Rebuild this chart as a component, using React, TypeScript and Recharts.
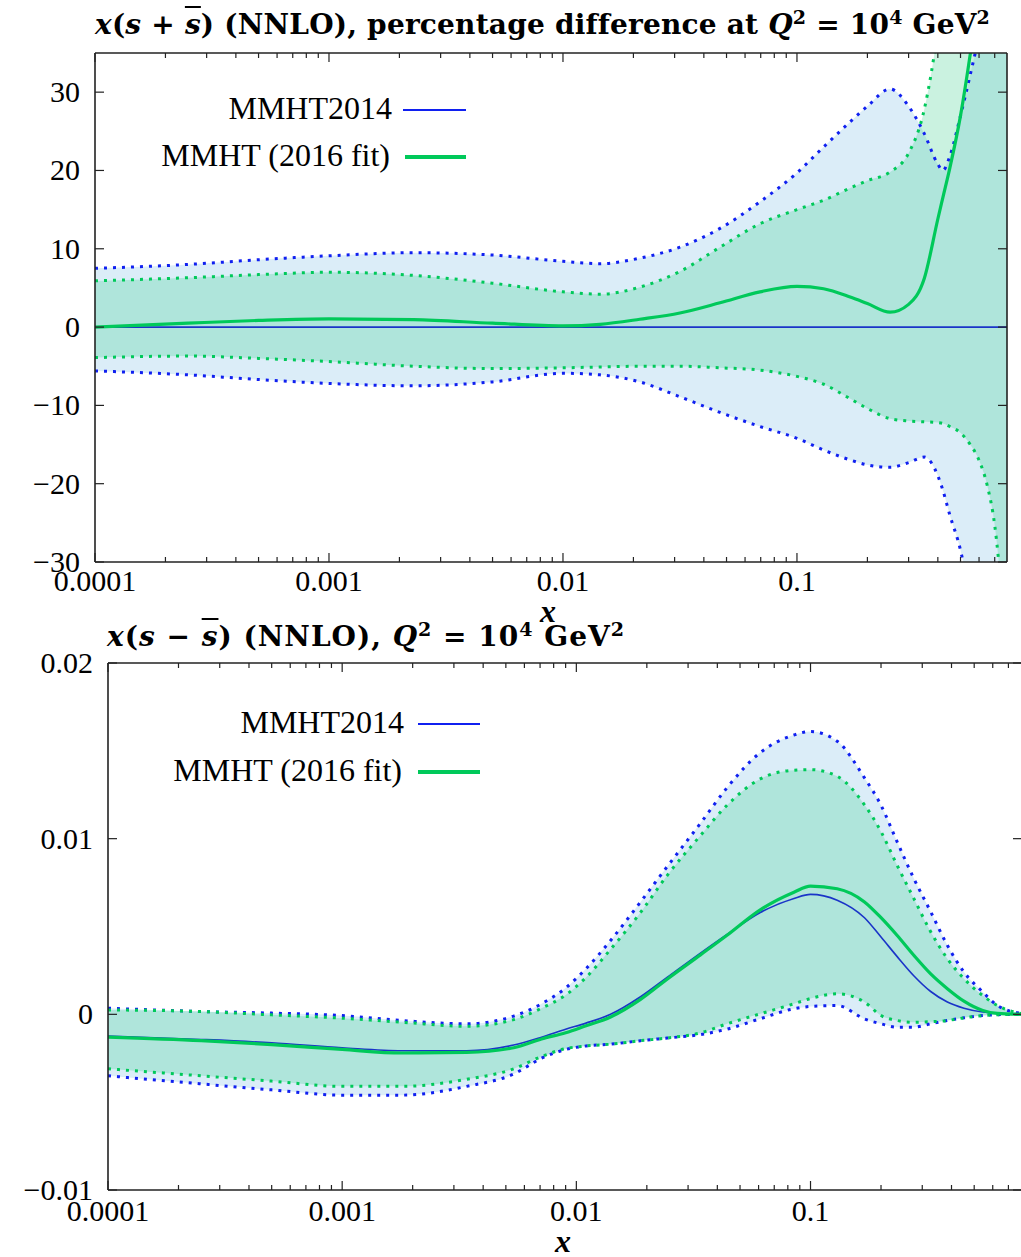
import React from 'react';
import { ComposedChart, Area, Line, XAxis, YAxis } from 'recharts';

// ---- top panel: x(s+sbar), percentage difference at Q^2 = 10^4 GeV^2
const X_TOP = [0.0001, 0.00025, 0.0005, 0.001, 0.0023, 0.005, 0.01, 0.0144, 0.0213, 0.0316, 0.0469, 0.0695, 0.1, 0.13, 0.17, 0.2, 0.25, 0.3, 0.35, 0.4, 0.42, 0.45, 0.5, 0.55, 0.6, 0.65, 0.7, 0.75, 0.79];
const TOP_BLUE_UP = [7.5, 8.0, 8.6, 9.1, 9.5, 9.2, 8.4, 8.1, 8.8, 10.2, 12.6, 16.0, 19.7, 23.0, 26.3, 28.2, 30.4, 28.2, 24.7, 20.8, 20.0, 21.8, 27.0, 32.2, 37.5, 45, 55, 65, 75];
const TOP_BLUE_LO = [-5.6, -6.1, -6.7, -7.2, -7.5, -7.0, -5.9, -6.1, -7.0, -8.9, -10.9, -12.7, -14.2, -15.7, -17.0, -17.6, -17.9, -17.3, -16.6, -19.0, -20.8, -24.0, -28.5, -35, -45, -55, -65, -75, -85];
const TOP_BLUE_MID = [0, 0, 0, 0, 0, 0, 0, 0, 0, 0, 0, 0, 0, 0, 0, 0, 0, 0, 0, 0, 0, 0, 0, 0, 0, 0, 0, 0, 0];
const TOP_GREEN_UP = [5.9, 6.3, 6.7, 7.0, 6.6, 5.6, 4.5, 4.2, 5.1, 7.1, 10.2, 13.2, 15.0, 16.2, 17.8, 18.7, 19.8, 22.2, 27.8, 38, 43, 50, 60, 70, 80, 90, 100, 110, 120];
const TOP_GREEN_LO = [-3.9, -3.7, -4.0, -4.4, -5.0, -5.3, -5.2, -5.1, -5.0, -5.0, -5.2, -5.5, -6.3, -7.3, -9.2, -10.4, -11.7, -12.0, -12.1, -12.2, -12.3, -12.7, -13.5, -15.0, -17.0, -20.2, -25.3, -34, -42];
const TOP_GREEN_MID = [0, 0.5, 0.85, 1.05, 0.95, 0.5, 0.15, 0.35, 1.0, 1.8, 3.1, 4.5, 5.2, 4.9, 3.8, 3.0, 1.9, 2.9, 6.2, 13.8, 16.5, 20.3, 27.0, 34.8, 43, 51, 59, 67, 73];

// ---- bottom panel: x(s-sbar)
const X_BOT = [0.0001, 0.00025, 0.0005, 0.001, 0.0018, 0.0034, 0.0054, 0.0071, 0.009, 0.011, 0.014, 0.0188, 0.0244, 0.034, 0.044, 0.061, 0.085, 0.1, 0.13, 0.17, 0.2, 0.234, 0.276, 0.326, 0.384, 0.452, 0.544, 0.628, 0.8];
const BOT_BLUE_UP = [0.00035, 0.00016, 0.00007, -0.00007, -0.00035, -0.00054, -0.0001, 0.0006, 0.0015, 0.0026, 0.0042, 0.0064, 0.0084, 0.0109, 0.0129, 0.0149, 0.0159, 0.0161, 0.01555, 0.01346, 0.0119, 0.00984, 0.00774, 0.00584, 0.00393, 0.00241, 0.00127, 0.0005, 0.00005];
const BOT_BLUE_LO = [-0.0035, -0.00396, -0.0043, -0.0046, -0.0046, -0.0041, -0.0034, -0.0025, -0.002, -0.0018, -0.0017, -0.0015, -0.00135, -0.00115, -0.00084, -0.00025, 0.00032, 0.00045, 0.0005, -0.00026, -0.00054, -0.00073, -0.00073, -0.00054, -0.00035, -0.0002, -0.00007, -0.00002, 0];
const BOT_BLUE_MID = [-0.00124, -0.00143, -0.00162, -0.0019, -0.00207, -0.00207, -0.00175, -0.0013, -0.00085, -0.0005, 0, 0.001, 0.0021, 0.0035, 0.00455, 0.0058, 0.0066, 0.00683, 0.0065, 0.0055, 0.0044, 0.0033, 0.0022, 0.0013, 0.0007, 0.00035, 0.00013, 0.00005, 0];
const BOT_GREEN_UP = [0.00025, 0.00016, -0.00003, -0.00022, -0.00045, -0.00068, -0.0003, 0.00035, 0.0011, 0.0021, 0.0037, 0.0058, 0.0079, 0.0102, 0.0119, 0.0134, 0.0139, 0.01393, 0.01355, 0.01193, 0.0104, 0.0085, 0.0066, 0.0047, 0.00317, 0.00203, 0.00107, 0.0005, 0.00003];
const BOT_GREEN_LO = [-0.0031, -0.0035, -0.0038, -0.0041, -0.0041, -0.0037, -0.0031, -0.0024, -0.00195, -0.0018, -0.0017, -0.0015, -0.00135, -0.00105, -0.00054, 0.00003, 0.0006, 0.0009, 0.00117, 0.0007, -0.00007, -0.00035, -0.00045, -0.00042, -0.00035, -0.0002, -0.00007, -0.00002, 0];
const BOT_GREEN_MID = [-0.0013, -0.0015, -0.00172, -0.002, -0.0022, -0.00217, -0.0019, -0.0014, -0.00105, -0.00065, -0.00015, 0.00085, 0.002, 0.0034, 0.0045, 0.00595, 0.00695, 0.0073, 0.00715, 0.0064, 0.0055, 0.0045, 0.00336, 0.0023, 0.00146, 0.00075, 0.00022, 0.00005, 0];

// ---- ticks
const X_MAJOR = [0.0001, 0.001, 0.01, 0.1];
const X_LABELS = ['0.0001', '0.001', '0.01', '0.1'];
const Y_TOP_TICKS = [-30, -20, -10, 0, 10, 20, 30];
const Y_TOP_LABELS = ['−30', '−20', '−10', '0', '10', '20', '30'];
const Y_BOT_TICKS = [-0.01, 0, 0.01, 0.02];
const Y_BOT_LABELS = ['−0.01', '0', '0.01', '0.02'];

const FONT = '"Liberation Serif", "Times New Roman", serif';
const TITLE_FONT = '"DejaVu Serif", serif';
const AX = '#222';
const BLUE = '#1020f0';
const BLUE_MID = '#1a34c8';
const GREEN = '#00c95a';
const BLUE_FILL = '#dbedf8';
const GREEN_FILL = '#3ccf8e';

// log ticks 1..9 per decade (minor ones get no label)
const logTicks = (max: number) => {
  const t: number[] = [];
  for (let e = -4; e <= -1; e++) {
    for (let m = 1; m <= 9; m++) {
      const v = Number((m * Math.pow(10, e)).toPrecision(3));
      if (v <= max) t.push(v);
    }
  }
  return t;
};

const majorIndex = (v: number) => X_MAJOR.findIndex((m) => Math.abs(m - v) / m < 1e-6);

const xTick = (side: 'top' | 'bottom', labelDy: number) => (p: any) => {
  const k = majorIndex(p.payload.value);
  const len = k >= 0 ? 9 : 5;
  const d = side === 'bottom' ? -1 : 1;
  return (
    <g>
      <line x1={p.x} x2={p.x} y1={p.y} y2={p.y + d * len} stroke={AX} strokeWidth={1.2} />
      {side === 'bottom' && k >= 0 && (
        <text x={p.x} y={p.y + labelDy} textAnchor="middle" fontFamily={FONT} fontSize={30} fill="#000">
          {X_LABELS[k]}
        </text>
      )}
    </g>
  );
};

const yTick = (side: 'left' | 'right', ticks: number[], labels: string[], gap: number) => (p: any) => {
  const i = ticks.findIndex((t) => Math.abs(t - p.payload.value) < 1e-9);
  const d = side === 'left' ? 1 : -1;
  return (
    <g>
      <line x1={p.x} x2={p.x + d * 9} y1={p.y} y2={p.y} stroke={AX} strokeWidth={1.2} />
      {side === 'left' && i >= 0 && (
        <text x={p.x - gap} y={p.y + 10} textAnchor="end" fontFamily={FONT} fontSize={30} fill="#000">
          {labels[i]}
        </text>
      )}
    </g>
  );
};

type PanelProps = {
  xs: number[];
  blueUp: number[];
  blueLo: number[];
  blueMid: number[];
  greenUp: number[];
  greenLo: number[];
  greenMid: number[];
  xMax: number;
  yDomain: [number, number];
  yTicks: number[];
  yLabels: string[];
  width: number;
  height: number;
  margin: { top: number; right: number; bottom: number; left: number };
  labelDy: number;
  yGap: number;
};

function Panel(props: PanelProps) {
  const data = props.xs.map((x, i) => ({
    x,
    blueBand: [props.blueLo[i], props.blueUp[i]],
    greenBand: [props.greenLo[i], props.greenUp[i]],
    blueUp: props.blueUp[i],
    blueLo: props.blueLo[i],
    blueMid: props.blueMid[i],
    greenUp: props.greenUp[i],
    greenLo: props.greenLo[i],
    greenMid: props.greenMid[i],
  }));
  const xt = logTicks(props.xMax);
  const axisLine = { stroke: AX, strokeWidth: 1.6 };
  const dotted = { strokeWidth: 3, strokeDasharray: '3 6', dot: false, type: 'monotone' as const, isAnimationActive: false };
  return (
    <ComposedChart width={props.width} height={props.height} data={data} margin={props.margin}>
      <XAxis dataKey="x" type="number" scale="log" domain={[0.0001, props.xMax]} allowDataOverflow ticks={xt} interval={0}
        height={1} tickSize={0} tickMargin={0} axisLine={axisLine} tick={xTick('bottom', props.labelDy)} />
      <XAxis xAxisId="top" orientation="top" dataKey="x" type="number" scale="log" domain={[0.0001, props.xMax]} allowDataOverflow
        ticks={xt} interval={0} height={1} tickSize={0} tickMargin={0} axisLine={axisLine} tick={xTick('top', 0)} />
      <YAxis type="number" domain={props.yDomain} allowDataOverflow ticks={props.yTicks} interval={0} width={1}
        tickSize={0} tickMargin={0} axisLine={axisLine} tick={yTick('left', props.yTicks, props.yLabels, props.yGap)} />
      <YAxis yAxisId="right" orientation="right" type="number" domain={props.yDomain} allowDataOverflow ticks={props.yTicks}
        interval={0} width={1} tickSize={0} tickMargin={0} axisLine={axisLine} tick={yTick('right', props.yTicks, props.yLabels, 0)} />

      <Area dataKey="blueBand" type="monotone" fill={BLUE_FILL} fillOpacity={1} stroke="none" isAnimationActive={false} />
      <Area dataKey="greenBand" type="monotone" fill={GREEN_FILL} fillOpacity={0.27} stroke="none" isAnimationActive={false} />
      <Line dataKey="blueUp" stroke={BLUE} {...dotted} />
      <Line dataKey="blueLo" stroke={BLUE} {...dotted} />
      <Line dataKey="greenUp" stroke={GREEN} {...dotted} />
      <Line dataKey="greenLo" stroke={GREEN} {...dotted} />
      <Line dataKey="blueMid" stroke={BLUE_MID} strokeWidth={1.6} dot={false} type="monotone" isAnimationActive={false} />
      <Line dataKey="greenMid" stroke={GREEN} strokeWidth={3.2} dot={false} type="monotone" isAnimationActive={false} />
    </ComposedChart>
  );
}

const sup: React.CSSProperties = { fontSize: '0.68em', verticalAlign: 'super', lineHeight: 0 };
const bar: React.CSSProperties = { textDecoration: 'overline' };

function LegendRow({ right, cy, lineLeft, lineRight, color, thick, label }: any) {
  return (
    <>
      <div style={{ position: 'absolute', right: 1021 - right, top: cy - 20, lineHeight: '40px', fontFamily: FONT, fontSize: 32, whiteSpace: 'nowrap' }}>
        {label}
      </div>
      <div style={{ position: 'absolute', left: lineLeft, top: cy + 2 - thick / 2, width: lineRight - lineLeft, height: thick, background: color }} />
    </>
  );
}

export default function App() {
  const titleStyle: React.CSSProperties = {
    position: 'absolute', fontFamily: TITLE_FONT, fontWeight: 'bold', fontSize: 28, whiteSpace: 'nowrap', lineHeight: '36px', letterSpacing: 0.2,
  };
  const xLabel: React.CSSProperties = {
    position: 'absolute', fontFamily: FONT, fontWeight: 'bold', fontStyle: 'italic', fontSize: 32, lineHeight: '24px', transform: 'translateX(-50%)',
  };
  return (
    <div style={{ position: 'absolute', left: 0, top: 0, width: 1021, height: 1257, overflow: 'hidden', background: '#fff' }}>
      <div style={{ position: 'absolute', left: 0, top: 0 }}>
        <Panel xs={X_TOP} blueUp={TOP_BLUE_UP} blueLo={TOP_BLUE_LO} blueMid={TOP_BLUE_MID}
          greenUp={TOP_GREEN_UP} greenLo={TOP_GREEN_LO} greenMid={TOP_GREEN_MID}
          xMax={0.79} yDomain={[-30, 35]} yTicks={Y_TOP_TICKS} yLabels={Y_TOP_LABELS}
          width={1021} height={600} margin={{ top: 52, right: 13, bottom: 37, left: 94 }} labelDy={29} yGap={15} />
      </div>
      <div style={{ position: 'absolute', left: 0, top: 600 }}>
        <Panel xs={X_BOT} blueUp={BOT_BLUE_UP} blueLo={BOT_BLUE_LO} blueMid={BOT_BLUE_MID}
          greenUp={BOT_GREEN_UP} greenLo={BOT_GREEN_LO} greenMid={BOT_GREEN_MID}
          xMax={0.8} yDomain={[-0.01, 0.02]} yTicks={Y_BOT_TICKS} yLabels={Y_BOT_LABELS}
          width={1023} height={657} margin={{ top: 62, right: 0, bottom: 66, left: 107 }} labelDy={31} yGap={15} />
      </div>

      <div style={{ ...titleStyle, left: 95, top: 7 }}>
        <i>x</i>(<i>s</i> + <i style={bar}>s</i>) (NNLO), percentage difference at <i>Q</i><span style={sup}>2</span> = 10<span style={sup}>4</span> GeV<span style={sup}>2</span>
      </div>
      <div style={{ ...titleStyle, left: 107, top: 619, letterSpacing: 1 }}>
        <i>x</i>(<i>s</i> − <i style={bar}>s</i>) (NNLO), <i>Q</i><span style={sup}>2</span> = 10<span style={sup}>4</span> GeV<span style={sup}>2</span>
      </div>
      <div style={{ ...xLabel, left: 548, top: 599 }}>x</div>
      <div style={{ ...xLabel, left: 563, top: 1229 }}>x</div>

      <LegendRow right={392} cy={108} lineLeft={403} lineRight={466} color={BLUE} thick={1.6} label="MMHT2014" />
      <LegendRow right={390} cy={155} lineLeft={405} lineRight={466} color={GREEN} thick={3.2} label="MMHT (2016 fit)" />
      <LegendRow right={404} cy={722} lineLeft={418} lineRight={480} color={BLUE} thick={1.6} label="MMHT2014" />
      <LegendRow right={402} cy={770} lineLeft={418} lineRight={480} color={GREEN} thick={3.2} label="MMHT (2016 fit)" />
    </div>
  );
}
